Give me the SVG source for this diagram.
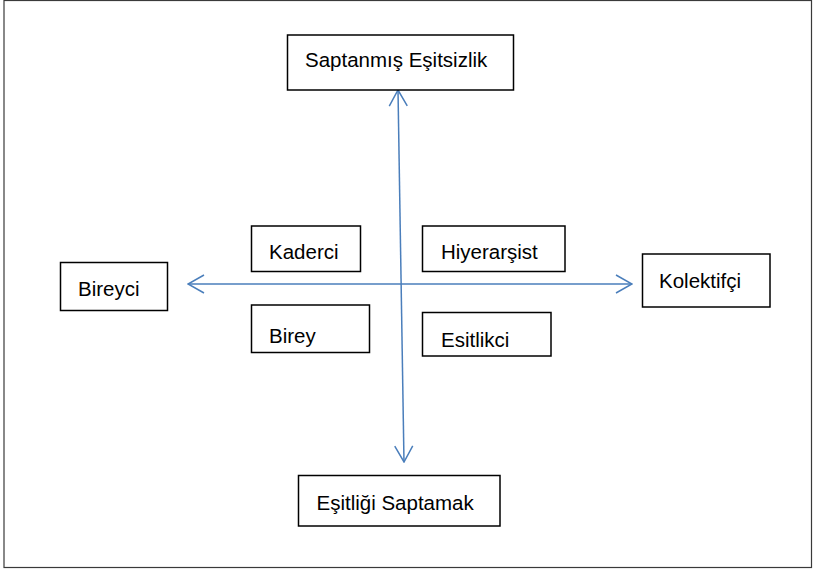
<svg xmlns="http://www.w3.org/2000/svg" width="814" height="571" viewBox="0 0 814 571">
  <style>
    .box { fill: #ffffff; stroke: #000000; stroke-width: 1.5; }
    .lbl { font-family: "Liberation Sans", Arial, sans-serif; font-size: 20.5px; fill: #000000; }
    .axis { stroke: #4a7ebb; stroke-width: 1.5; fill: none; marker-start: url(#arr); marker-end: url(#arr); }
  </style>
  <defs>
    <marker id="arr" viewBox="-17 -10 18 20" markerWidth="18" markerHeight="20" refX="0" refY="0" markerUnits="userSpaceOnUse" orient="auto-start-reverse">
      <path d="M-16,-9 L0,0 L-16,9" fill="none" stroke="#4a7ebb" stroke-width="1.5"/>
    </marker>
  </defs>
  <rect x="0" y="0" width="814" height="571" fill="#ffffff"/>
  <rect x="4" y="0.5" width="807.5" height="567" fill="none" stroke="#3a3a3a" stroke-width="1.2"/>

  <g id="connectors">
    <line class="axis" x1="404" y1="462" x2="398" y2="90"/>
    <line class="axis" x1="188" y1="284" x2="632" y2="284"/>
  </g>

  <g id="saptanmis">
    <rect class="box" x="287.5" y="35" width="226" height="55"/>
    <text class="lbl" x="305" y="67">Saptanmış Eşitsizlik</text>
  </g>
  <g id="bireyci">
    <rect class="box" x="60.5" y="262.5" width="107" height="48"/>
    <text class="lbl" x="78" y="296">Bireyci</text>
  </g>
  <g id="kaderci">
    <rect class="box" x="251.5" y="226" width="109" height="45.5"/>
    <text class="lbl" x="269" y="259">Kaderci</text>
  </g>
  <g id="hiyerarsist">
    <rect class="box" x="422.5" y="226" width="142.5" height="45.5"/>
    <text class="lbl" x="441" y="259">Hiyerarşist</text>
  </g>
  <g id="kolektifci">
    <rect class="box" x="642.5" y="254" width="127.5" height="53"/>
    <text class="lbl" x="659" y="288">Kolektifçi</text>
  </g>
  <g id="birey">
    <rect class="box" x="251.5" y="305" width="118" height="47.5"/>
    <text class="lbl" x="269" y="343">Birey</text>
  </g>
  <g id="esitlikci">
    <rect class="box" x="422.5" y="312.5" width="128.5" height="43.5"/>
    <text class="lbl" x="441" y="346.5">Esitlikci</text>
  </g>
  <g id="esitligi">
    <rect class="box" x="298.5" y="475.5" width="201.5" height="50.5"/>
    <text class="lbl" x="316.5" y="510">Eşitliği Saptamak</text>
  </g>
</svg>
